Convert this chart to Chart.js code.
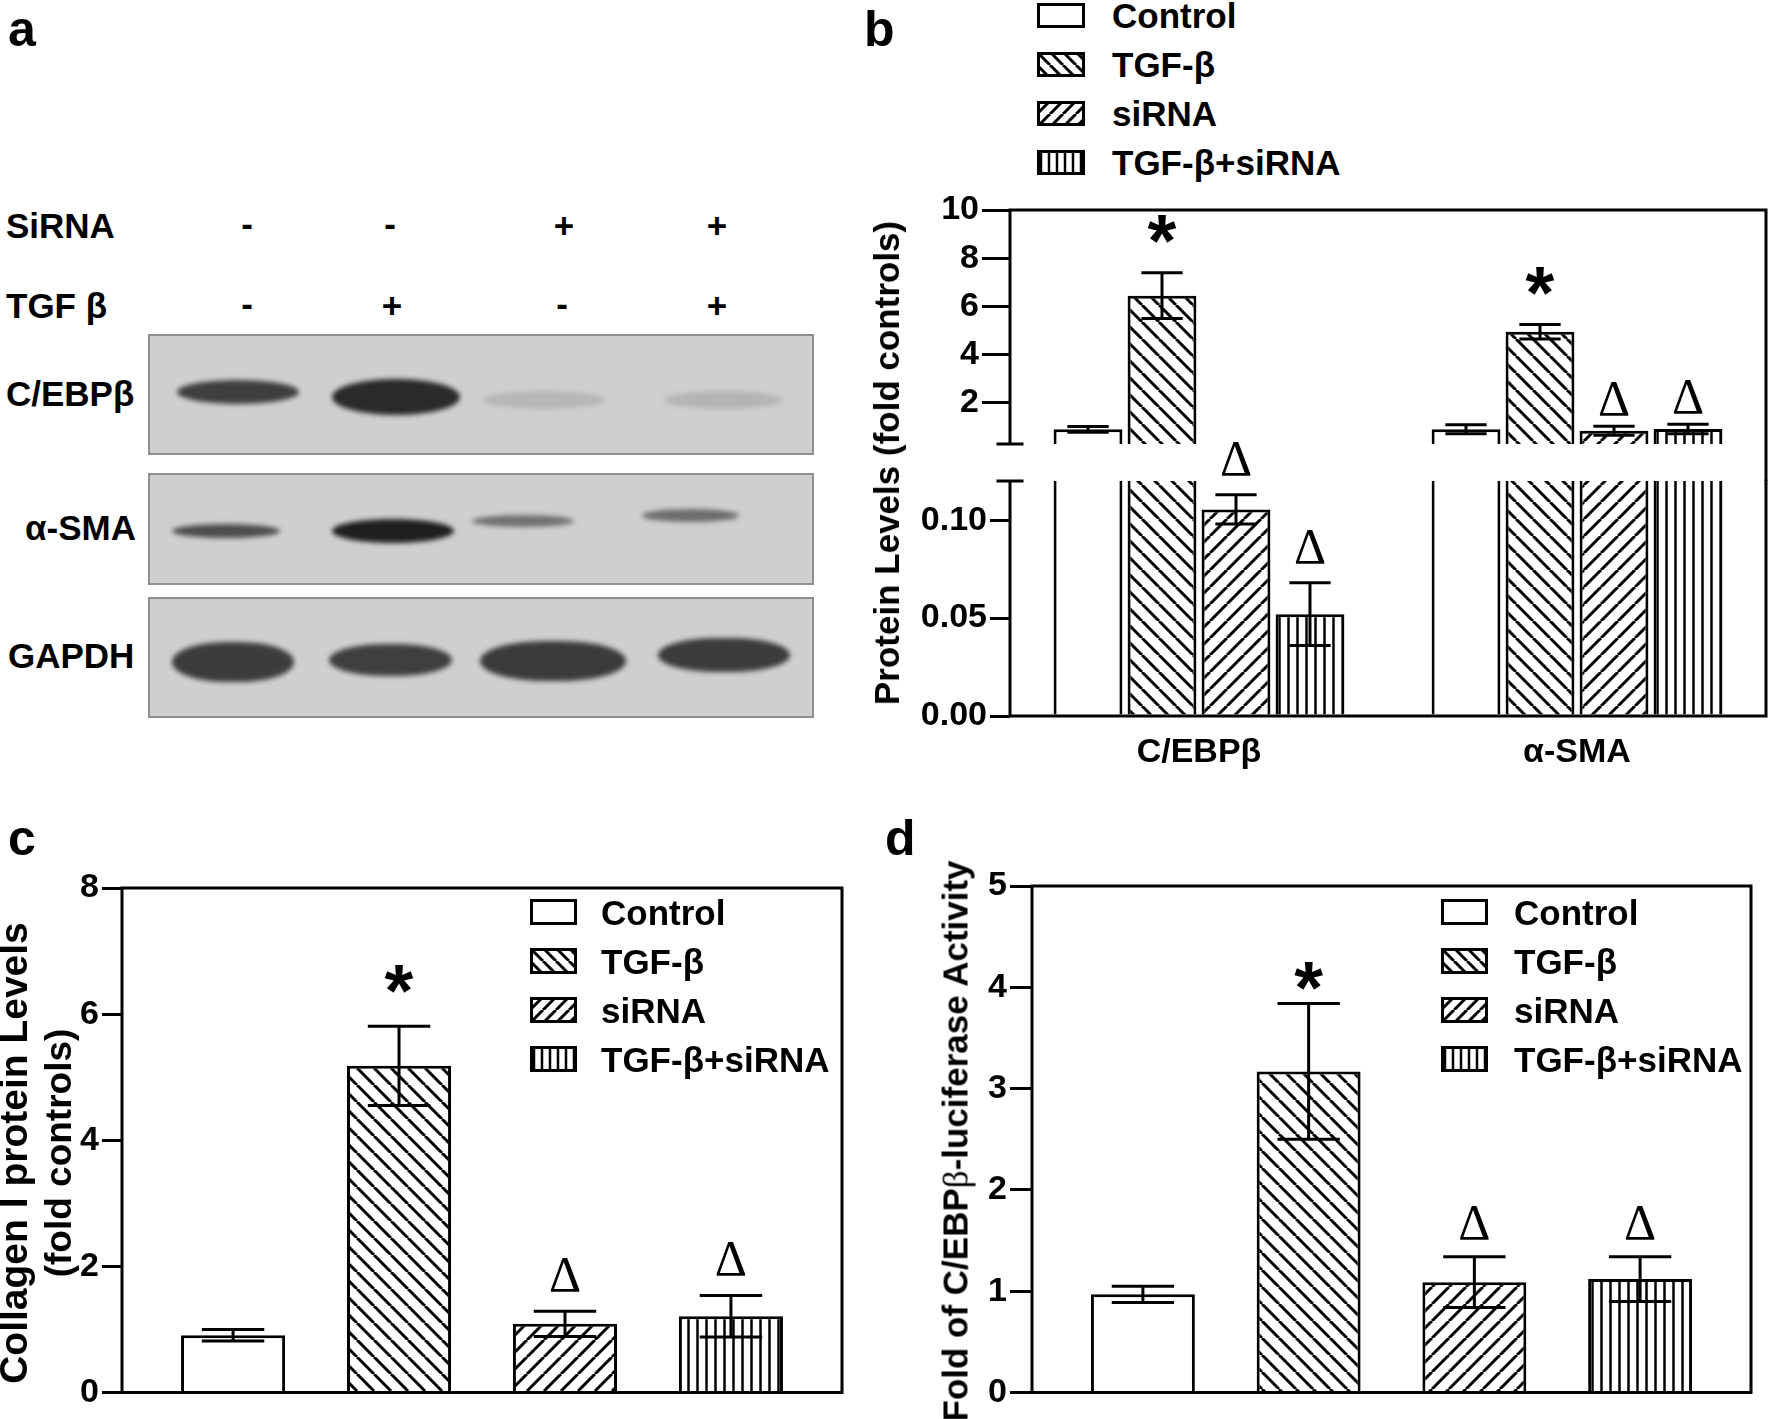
<!DOCTYPE html>
<html>
<head>
<meta charset="utf-8">
<title>C/EBPβ knockdown figure</title>
<script src="https://cdn.jsdelivr.net/npm/chart.js@4.4.1/dist/chart.umd.min.js"></script>
<style>
  html, body { margin: 0; padding: 0; background: #fff; }
  #fig { position: relative; width: 1770px; height: 1419px; overflow: hidden;
         font-family: 'Liberation Sans', Arial, sans-serif; font-weight: bold; color: #000; }
  .wrap { position: absolute; }
  .txt { position: absolute; white-space: nowrap; line-height: 1; z-index: 2; }
  .panel { font-size: 50px; }
  .lab { font-size: 35px; }
  .sign { transform: translateX(-50%); }
  .leg { font-size: 35px; }
  .sw { position: absolute; z-index: 2; }
  .ytitle { position: absolute; white-space: nowrap; font-size: 35px; text-align: center; z-index: 2;
            transform: translate(-50%, -50%) rotate(-90deg); }
  .blot { position: absolute; left: 148px; width: 666px; background: #cfcfcf;
          border: 2px solid #8e8e8e; box-sizing: border-box; overflow: hidden; }
  .band { position: absolute; border-radius: 50%; filter: blur(2.5px); }
  .pill { border-radius: 45% / 50%; }
</style>
</head>
<body>
<div id="fig">
  <!-- panel letters -->
  <div class="txt panel" style="left:8px;top:4px">a</div>
  <div class="txt panel" style="left:864px;top:4px">b</div>
  <div class="txt panel" style="left:8px;top:813px">c</div>
  <div class="txt panel" style="left:885px;top:813px">d</div>

  <!-- a: western blot -->
  <div class="txt lab" style="left:6px;top:208px">SiRNA</div>
  <div class="txt lab" style="left:6px;top:288px">TGF β</div>
  <div class="txt lab sign" style="left:247px;top:206px">-</div>
  <div class="txt lab sign" style="left:390px;top:206px">-</div>
  <div class="txt lab sign" style="left:564px;top:208px">+</div>
  <div class="txt lab sign" style="left:717px;top:208px">+</div>
  <div class="txt lab sign" style="left:247px;top:286px">-</div>
  <div class="txt lab sign" style="left:392px;top:288px">+</div>
  <div class="txt lab sign" style="left:562px;top:286px">-</div>
  <div class="txt lab sign" style="left:717px;top:288px">+</div>

  <div class="txt lab" style="left:6px;top:376px">C/EBPβ</div>
  <div class="txt lab" style="left:25px;top:510px">α-SMA</div>
  <div class="txt lab" style="left:8px;top:638px">GAPDH</div>

  <div class="blot" style="top:334px;height:121px">
    <div class="band" style="left:27px;top:44px;width:122px;height:24px;background:#3f3f3f"></div>
    <div class="band" style="left:182px;top:43px;width:128px;height:36px;background:#2a2a2a"></div>
    <div class="band" style="left:332px;top:55px;width:124px;height:18px;background:#b6b6b6"></div>
    <div class="band" style="left:514px;top:55px;width:118px;height:18px;background:#b4b4b4"></div>
  </div>
  <div class="blot" style="top:473px;height:112px">
    <div class="band" style="left:22px;top:49px;width:108px;height:14px;background:#4d4d4d"></div>
    <div class="band" style="left:182px;top:44px;width:122px;height:24px;background:#1f1f1f"></div>
    <div class="band" style="left:322px;top:40px;width:102px;height:12px;background:#707070"></div>
    <div class="band" style="left:492px;top:34px;width:97px;height:13px;background:#6c6c6c"></div>
  </div>
  <div class="blot" style="top:597px;height:121px">
    <div class="band pill" style="left:22px;top:43px;width:122px;height:40px;background:#3c3c3c"></div>
    <div class="band pill" style="left:179px;top:45px;width:123px;height:32px;background:#3f3f3f"></div>
    <div class="band pill" style="left:330px;top:42px;width:146px;height:40px;background:#3b3b3b"></div>
    <div class="band pill" style="left:508px;top:39px;width:132px;height:34px;background:#3c3c3c"></div>
  </div>

  <!-- chart canvases -->
  <div class="wrap" id="wrapBUp"><canvas id="bUpper"></canvas></div>
  <div class="wrap" id="wrapBLow"><canvas id="bLower"></canvas></div>
  <div class="wrap" id="wrapC"><canvas id="cChart"></canvas></div>
  <div class="wrap" id="wrapD"><canvas id="dChart"></canvas></div>

  <!-- axis titles -->
  <div class="ytitle" style="left:887px;top:463px">Protein Levels (fold controls)</div>
  <div class="ytitle" style="left:36px;top:1153px;line-height:44px"><span style="font-size:39px">Collagen I protein Levels</span><br><span style="font-size:37px">(fold controls)</span></div>
  <div class="ytitle" style="left:956px;top:1141px">Fold of C/EBP<span style="font-family:'Liberation Serif',serif;font-weight:normal">β</span>-luciferase Activity</div>
</div>

<script>
// ---- data ----
const seriesNames = ['Control', 'TGF-β', 'siRNA', 'TGF-β+siRNA'];
const proteinLabels = ['C/EBPβ', 'α-SMA'];

// b: protein levels (fold of control), each array is [C/EBPβ, α-SMA]
const protControl = [0.91, 0.91];
const protTgf = [6.45, 4.95];
const protSirna = [0.1055, 0.85];
const protBoth = [0.052, 0.92];
const protControlErr = [0.12, 0.19];
const protTgfErr = [0.95, 0.3];
const protSirnaErr = [0.0075, 0.19];
const protBothErr = [0.016, 0.2];
const protMarks = [['', ''], ['*', '*'], ['Δ', 'Δ'], ['Δ', 'Δ']];
const protTicksUpper = [2, 4, 6, 8, 10];
const protTicksLower = [0, 0.05, 0.10];

// c: collagen I protein (fold of control), one value per group
const collagen = [0.91, 5.18, 1.09, 1.21];
const collagenErr = [0.09, 0.63, 0.2, 0.33];
const collagenMarks = ['', '*', 'Δ', 'Δ'];

// d: C/EBPβ luciferase activity
const luciferase = [0.97, 3.17, 1.09, 1.12];
const luciferaseErr = [0.08, 0.67, 0.25, 0.22];
const luciferaseMarks = ['', '*', 'Δ', 'Δ'];

Chart.defaults.font.family = "'Liberation Sans', Arial, sans-serif";
Chart.defaults.font.size = 34;
Chart.defaults.font.weight = 'bold';
Chart.defaults.color = '#000';

// black on white hatch fills
function hatch(kind, size, width) {
  const c = document.createElement('canvas');
  c.width = size; c.height = size;
  const g = c.getContext('2d');
  g.fillStyle = '#fff';
  g.fillRect(0, 0, size, size);
  g.strokeStyle = '#000';
  g.lineWidth = width;
  g.beginPath();
  if (kind === 'back') {
    for (let k = -1; k <= 1; k++) { g.moveTo(k * size, 0); g.lineTo(k * size + size, size); }
  } else if (kind === 'fwd') {
    for (let k = -1; k <= 1; k++) { g.moveTo(k * size, size); g.lineTo(k * size + size, 0); }
  } else {
    g.moveTo(size / 2, 0); g.lineTo(size / 2, size);
  }
  g.stroke();
  return g.createPattern(c, 'repeat');
}
const fills = ['#ffffff', hatch('back', 17, 3), hatch('fwd', 17, 3), hatch('vert', 9, 2.5)];
const legendFills = ['#ffffff', hatch('back', 13, 3), hatch('fwd', 13, 3), hatch('vert', 8, 2.5)];

// error bars + significance marks, drawn through each chart's own y scale
const errorBars = {
  id: 'errorBars',
  afterDatasetsDraw(chart, args, opts) {
    const ctx = chart.ctx;
    ctx.save();
    ctx.strokeStyle = '#000';
    ctx.fillStyle = '#000';
    ctx.lineWidth = 3;
    ctx.textAlign = 'center';
    ctx.textBaseline = 'alphabetic';
    chart.data.datasets.forEach((ds, di) => {
      const meta = chart.getDatasetMeta(di);
      const y = chart.scales[meta.yAxisID];
      meta.data.forEach((bar, i) => {
        const v = ds.data[i];
        if (v == null || v > y.max || v < y.min) return;
        const e = ds.errors[i];
        const top = y.getPixelForValue(v + e);
        const bot = y.getPixelForValue(v - e);
        const half = bar.width * 0.3;
        ctx.beginPath();
        ctx.moveTo(bar.x, top); ctx.lineTo(bar.x, bot);
        ctx.moveTo(bar.x - half, top); ctx.lineTo(bar.x + half, top);
        ctx.moveTo(bar.x - half, bot); ctx.lineTo(bar.x + half, bot);
        ctx.stroke();
        const m = ds.marks[i];
        if (m === '*') {
          ctx.font = "bold 74px 'Liberation Sans'";
          ctx.fillText('*', bar.x, top - opts.starGap + 43);
        } else if (m) {
          ctx.font = "50px 'Liberation Serif'";
          ctx.fillText(m, bar.x, top - opts.deltaGap + 16);
        }
      });
    });
    ctx.restore();
  }
};

// axis box lines, incl. the broken axis of panel b
const frame = {
  id: 'frame',
  afterDatasetsDraw(chart, args, opts) {
    const ctx = chart.ctx;
    const a = chart.chartArea;
    ctx.save();
    ctx.strokeStyle = '#000';
    ctx.lineWidth = 3;
    ctx.lineCap = 'square';
    ctx.beginPath();
    if (opts.part === 'upper') {
      ctx.moveTo(a.left, a.bottom); ctx.lineTo(a.left, a.top);
      ctx.lineTo(a.right, a.top); ctx.lineTo(a.right, chart.height);
      ctx.moveTo(a.left - 12, a.bottom); ctx.lineTo(a.left + 12, a.bottom);
    } else if (opts.part === 'lower') {
      ctx.moveTo(a.left - 12, a.top); ctx.lineTo(a.left + 12, a.top);
      ctx.moveTo(a.left, a.top); ctx.lineTo(a.left, a.bottom);
      ctx.lineTo(a.right, a.bottom); ctx.lineTo(a.right, a.top);
    } else {
      ctx.rect(a.left, a.top, a.right - a.left, a.bottom - a.top);
    }
    ctx.stroke();
    ctx.restore();
  }
};

// put the canvas so that its chart area lands on the given box
function placeChart(id, area, yW, padT, padR, xH, padB) {
  const el = document.getElementById(id);
  el.style.left = (area.left - yW) + 'px';
  el.style.top = (area.top - padT) + 'px';
  el.style.width = (yW + area.right - area.left + padR) + 'px';
  el.style.height = (padT + area.bottom - area.top + xH + padB) + 'px';
}

function yAxis(min, max, ticks, yW, tickLen, fmt) {
  return {
    type: 'linear', min: min, max: max,
    afterBuildTicks: s => { s.ticks = ticks.map(v => ({ value: v })); },
    afterFit: s => { s.width = yW; },
    grid: { drawOnChartArea: false, tickLength: tickLen, tickWidth: 3, tickColor: '#000', color: '#000', lineWidth: 3 },
    border: { display: false },
    ticks: { padding: 3, callback: fmt }
  };
}

function chartOptions(y, x, pad, errOpts, part) {
  return {
    responsive: true,
    maintainAspectRatio: false,
    animation: false,
    events: [],
    layout: { padding: pad },
    plugins: { legend: { display: false }, tooltip: { enabled: false }, errorBars: errOpts, frame: { part: part } },
    scales: { x: x, y: y }
  };
}

// ---- panel b, split into two charts for the axis break ----
const protMeans = [protControl, protTgf, protSirna, protBoth];
const protErrs = [protControlErr, protTgfErr, protSirnaErr, protBothErr];
const upperMin = 0.3, lowerMax = 0.12;

function protDatasets(keep) {
  return seriesNames.map((name, i) => ({
    label: name,
    data: protMeans[i].map(v => keep(v) ? v : null),
    errors: protErrs[i],
    marks: protMarks[i],
    backgroundColor: fills[i],
    borderColor: '#000',
    borderWidth: 3,
    categoryPercentage: 0.783,
    barPercentage: 0.93,
    clip: 0
  }));
}

placeChart('wrapBUp', { left: 1010, right: 1766, top: 210, bottom: 444 }, 140, 24, 4, 0, 37);
new Chart(document.getElementById('bUpper'), {
  type: 'bar',
  data: { labels: proteinLabels, datasets: protDatasets(v => v >= upperMin) },
  options: chartOptions(
    yAxis(upperMin, 10, protTicksUpper, 140, 28, v => String(v)),
    { display: false },
    { left: 0, top: 24, right: 4, bottom: 37 },
    { starGap: 50, deltaGap: 27 }, 'upper'),
  plugins: [errorBars, frame]
});

placeChart('wrapBLow', { left: 1010, right: 1766, top: 481, bottom: 716 }, 140, 81, 4, 60, 8);
new Chart(document.getElementById('bLower'), {
  type: 'bar',
  data: { labels: proteinLabels, datasets: protDatasets(v => true) },
  options: chartOptions(
    yAxis(0, lowerMax, protTicksLower, 140, 20, v => v.toFixed(2)),
    { grid: { display: false }, border: { display: false }, ticks: { padding: 8 },
      afterFit: s => { s.height = 60; } },
    { left: 0, top: 81, right: 4, bottom: 8 },
    { starGap: 50, deltaGap: 36 }, 'lower'),
  plugins: [errorBars, frame]
});

// ---- panels c and d: one group, four bars ----
function groupDatasets(values, errs, marks) {
  return seriesNames.map((name, i) => ({
    label: name,
    data: [values[i]],
    errors: [errs[i]],
    marks: [marks[i]],
    backgroundColor: fills[i],
    borderColor: '#000',
    borderWidth: 3,
    categoryPercentage: 0.922,
    barPercentage: 0.627,
    clip: 0
  }));
}

placeChart('wrapC', { left: 122, right: 842, top: 888, bottom: 1396 }, 122, 24, 10, 0, 20);
new Chart(document.getElementById('cChart'), {
  type: 'bar',
  data: { labels: [''], datasets: groupDatasets(collagen, collagenErr, collagenMarks) },
  options: chartOptions(
    yAxis(0, 8, [0, 2, 4, 6, 8], 122, 20, v => String(v)),
    { display: false },
    { left: 0, top: 24, right: 10, bottom: 20 },
    { starGap: 53, deltaGap: 36 }, 'full'),
  plugins: [errorBars, frame]
});

placeChart('wrapD', { left: 1032, right: 1751, top: 886, bottom: 1396 }, 110, 24, 10, 0, 20);
new Chart(document.getElementById('dChart'), {
  type: 'bar',
  data: { labels: [''], datasets: groupDatasets(luciferase, luciferaseErr, luciferaseMarks) },
  options: chartOptions(
    yAxis(0, 5, [0, 1, 2, 3, 4, 5], 110, 22, v => String(v)),
    { display: false },
    { left: 0, top: 24, right: 10, bottom: 20 },
    { starGap: 34, deltaGap: 34 }, 'full'),
  plugins: [errorBars, frame]
});

// ---- legends ----
function addLegend(boxX, textX, firstY, stepY, boxW, boxH) {
  const fig = document.getElementById('fig');
  seriesNames.forEach((name, i) => {
    const cy = firstY + i * stepY;
    const c = document.createElement('canvas');
    c.width = boxW; c.height = boxH;
    c.className = 'sw';
    c.style.left = boxX + 'px';
    c.style.top = Math.round(cy - boxH / 2) + 'px';
    const g = c.getContext('2d');
    g.fillStyle = legendFills[i];
    g.fillRect(0, 0, boxW, boxH);
    g.strokeStyle = '#000';
    g.lineWidth = 3;
    g.strokeRect(1.5, 1.5, boxW - 3, boxH - 3);
    fig.appendChild(c);
    const t = document.createElement('div');
    t.className = 'txt leg';
    t.textContent = name;
    t.style.left = textX + 'px';
    t.style.top = Math.round(cy - 17) + 'px';
    fig.appendChild(t);
  });
}
addLegend(1037, 1112, 15, 49, 48, 25);
addLegend(530, 601, 912, 49, 47, 26);
addLegend(1441, 1514, 912, 49, 47, 26);
</script>
</body>
</html>
